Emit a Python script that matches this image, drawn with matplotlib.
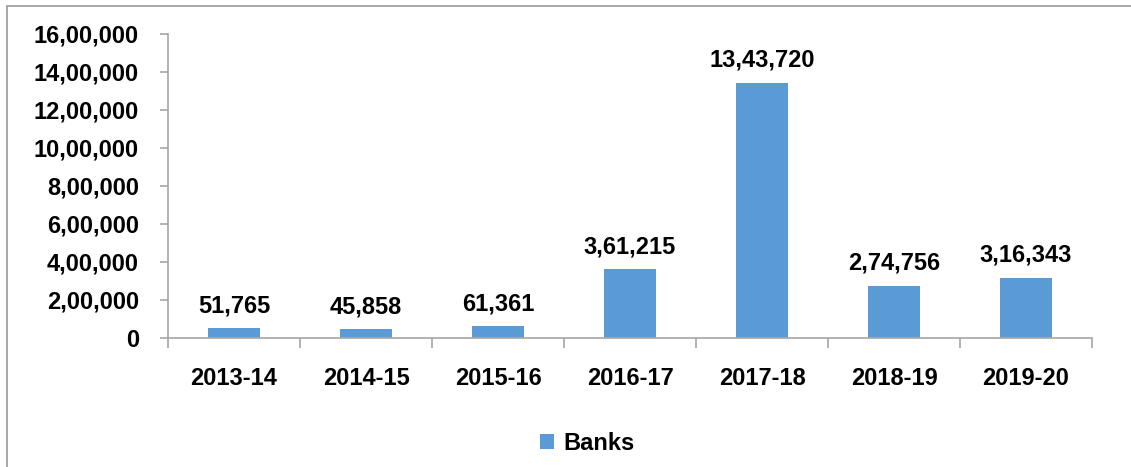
import matplotlib.pyplot as plt
from matplotlib.patches import Rectangle
from matplotlib.ticker import FuncFormatter

years = ['2013-14', '2014-15', '2015-16', '2016-17', '2017-18', '2018-19', '2019-20']
banks = [51765, 45858, 61361, 361215, 1343720, 274756, 316343]
y_ticks = [0, 200000, 400000, 600000, 800000, 1000000, 1200000, 1400000, 1600000]

bar_color = '#5B9BD5'
axis_color = '#A6A6A6'
plt.rcParams['font.family'] = ['Liberation Sans', 'DejaVu Sans']
fs = 17


def indian_format(v, pos=None):
    """Format a number with Indian digit grouping (12,34,567)."""
    s = str(int(round(v)))
    if len(s) <= 3:
        return s
    head, tail = s[:-3], s[-3:]
    groups = []
    while len(head) > 2:
        groups.insert(0, head[-2:])
        head = head[:-2]
    if head:
        groups.insert(0, head)
    return ','.join(groups) + ',' + tail


fig = plt.figure(figsize=(11.31, 4.67), dpi=100)
ax = fig.add_axes([168 / 1131, 1 - 338 / 467, 924 / 1131, 304 / 467])

# Outer chart frame (cropped at right and bottom)
fig.patches.append(Rectangle((7 / 1131, -0.1), 1.2, 1 - 5.5 / 467 + 0.1,
                             transform=fig.transFigure, fill=False,
                             edgecolor='#A0A0A0', linewidth=1.3))

x = range(len(years))
bars = ax.bar(x, banks, width=0.4, color=bar_color, label='Banks')

# Value labels above bars
for bar, value in zip(bars, banks):
    ax.annotate(indian_format(value),
                (bar.get_x() + bar.get_width() / 2, bar.get_height()),
                xytext=(0, 8), textcoords='offset points',
                ha='center', va='bottom', fontsize=fs, fontweight='bold')

ax.set_xlim(-0.5, len(years) - 0.5)
ax.set_ylim(0, 1600000)
ax.set_yticks(y_ticks)
ax.yaxis.set_major_formatter(FuncFormatter(indian_format))

# Ticks at category boundaries, labels at category centres
ax.set_xticks([i - 0.5 for i in range(len(years) + 1)])
ax.set_xticklabels([])
ax.set_xticks(list(x), minor=True)
ax.set_xticklabels(years, minor=True)
ax.tick_params(axis='x', which='major', length=7, color=axis_color, width=1.2)
ax.tick_params(axis='x', which='minor', length=0, pad=21, labelsize=fs)
ax.tick_params(axis='y', length=6, color=axis_color, width=1.2, pad=15, labelsize=fs)
for lbl in ax.get_xticklabels(minor=True) + ax.get_yticklabels():
    lbl.set_fontweight('bold')

for side in ['top', 'right']:
    ax.spines[side].set_visible(False)
for side in ['left', 'bottom']:
    ax.spines[side].set_color(axis_color)
    ax.spines[side].set_linewidth(1.2)

fig.legend(loc='center', bbox_to_anchor=(587 / 1131, 1 - 443 / 467), frameon=False,
           prop={'size': fs, 'weight': 'bold'}, handlelength=0.6, handleheight=0.6,
           handletextpad=0.4)

fig.savefig('out.png', dpi=100)
